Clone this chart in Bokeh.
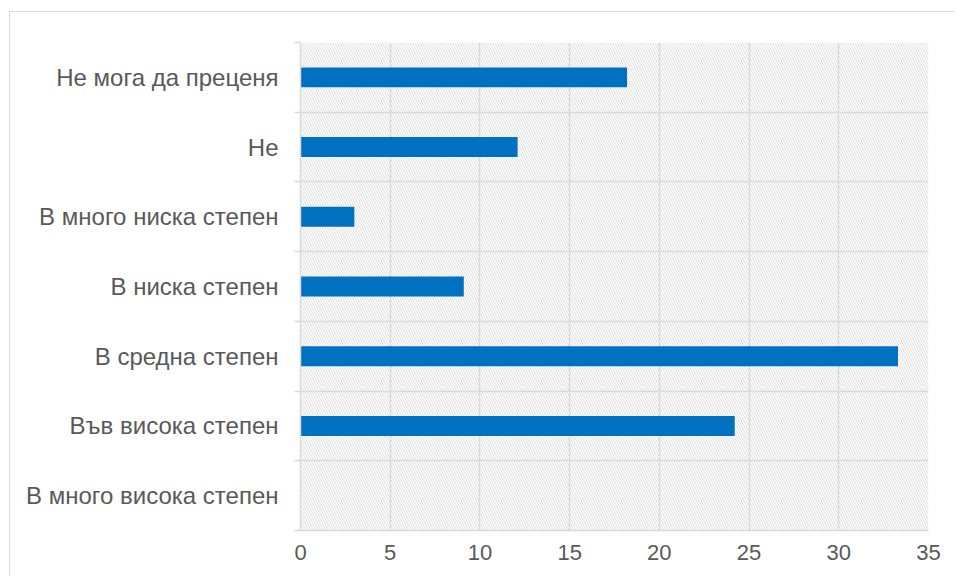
from bokeh.plotting import figure
from bokeh.models import Range1d, FixedTicker, BoxAnnotation, ColumnDataSource
from bokeh.embed import file_html
from bokeh.resources import INLINE

# Categories listed bottom to top
categories = ["В много висока степен", "Във висока степен", "В средна степен",
              "В ниска степен", "В много ниска степен", "Не", "Не мога да преценя"]
values = [0, 24.2, 33.3, 9.1, 3.0, 12.1, 18.2]
x_ticks = [0, 5, 10, 15, 20, 25, 30, 35]

n = len(categories)
pos = list(range(n))
src = ColumnDataSource(dict(y=pos, v=values, cat=categories))

FONT = "Liberation Sans"
GRID = "#d9d9d9"
TXT = "#595959"

p = figure(width=945, height=565, output_backend="svg", toolbar_location=None,
           x_range=Range1d(0, x_ticks[-1]), y_range=Range1d(-0.5, n - 0.5))
p.styles = {"margin-left": "9px", "margin-top": "11px",
            "border-left": "1.5px solid #d9d9d9", "border-top": "1.5px solid #d9d9d9"}
p.min_border_left = 290
p.min_border_right = 27
p.min_border_top = 30
p.min_border_bottom = 47
p.outline_line_color = None

# hatched background of the plot area
p.add_layout(BoxAnnotation(fill_alpha=0, line_color=None, hatch_pattern="\\",
                           hatch_color="#dcdcdc", hatch_scale=5, hatch_weight=1,
                           level="underlay"))

p.hbar(y="y", right="v", left=0, height=1 / 3.5, source=src,
       color="#0070C0", line_color=None)

# x axis
p.xaxis.ticker = FixedTicker(ticks=x_ticks)
p.xaxis.axis_line_color = GRID
p.xaxis.axis_line_width = 1.5
p.xaxis.major_tick_line_color = None
p.xaxis.major_tick_out = 0
p.xaxis.minor_tick_line_color = None
p.xaxis.major_label_standoff = 14
p.xaxis.major_label_text_font = FONT
p.xaxis.major_label_text_font_size = "22px"
p.xaxis.major_label_text_color = TXT

# y axis
boundaries = [i - 0.5 for i in range(n + 1)]
p.yaxis.ticker = FixedTicker(ticks=pos, minor_ticks=boundaries)
p.yaxis.major_label_overrides = {i: c for i, c in enumerate(categories)}
p.yaxis.axis_line_color = GRID
p.yaxis.axis_line_width = 1.5
p.yaxis.major_tick_line_color = None
p.yaxis.major_tick_out = 0
p.yaxis.minor_tick_line_color = GRID
p.yaxis.minor_tick_line_width = 1.5
p.yaxis.minor_tick_out = 6
p.yaxis.minor_tick_in = 0
p.yaxis.major_label_standoff = 16
p.yaxis.major_label_text_font = FONT
p.yaxis.major_label_text_font_size = "24px"
p.yaxis.major_label_text_color = TXT

# grids
p.xgrid.ticker = FixedTicker(ticks=x_ticks)
p.xgrid.grid_line_color = GRID
p.xgrid.grid_line_width = 1.5
p.ygrid.ticker = FixedTicker(ticks=boundaries)
p.ygrid.grid_line_color = GRID
p.ygrid.grid_line_width = 1.5

open("out.html", "w").write(file_html(p, INLINE))
